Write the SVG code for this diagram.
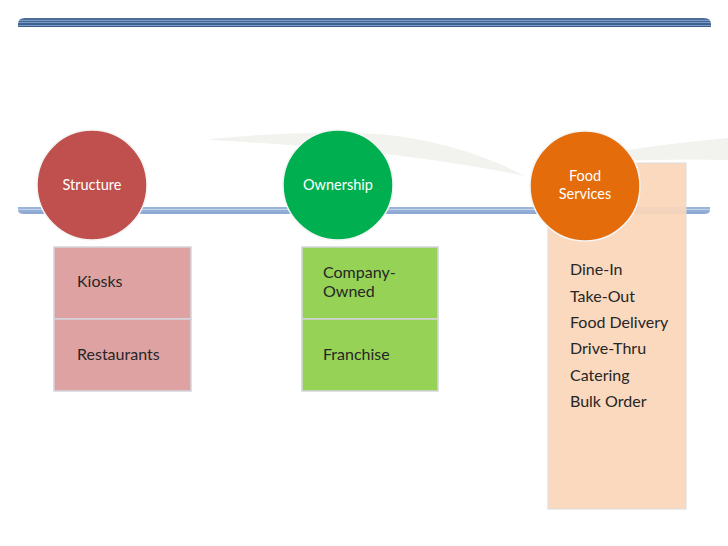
<svg xmlns="http://www.w3.org/2000/svg" width="728" height="546" viewBox="0 0 728 546">
<defs>
<style>
.t{font-family:Lato,"Open Sans","Liberation Sans",sans-serif;font-size:16px;fill:#262626}
.c{font-family:Lato,"Open Sans","Liberation Sans",sans-serif;font-size:14.5px;fill:#ffffff;text-anchor:middle}
.box{stroke:#d4d4dc;stroke-width:1.5}
.circ{stroke:#f4f4f4;stroke-width:1.5}
.sw{fill:#f2f2ef}
</style>
<linearGradient id="topStripe" x1="0" y1="0" x2="0" y2="1">
<stop offset="0" stop-color="#4a6d9c"/><stop offset="0.2" stop-color="#4a6d9c"/>
<stop offset="0.2" stop-color="#7d9cc8"/><stop offset="0.3" stop-color="#7d9cc8"/>
<stop offset="0.3" stop-color="#42658f"/><stop offset="0.5" stop-color="#42658f"/>
<stop offset="0.5" stop-color="#7d9cc8"/><stop offset="0.6" stop-color="#7d9cc8"/>
<stop offset="0.6" stop-color="#3f6191"/><stop offset="0.8" stop-color="#3f6191"/>
<stop offset="0.8" stop-color="#7d9cc8"/><stop offset="0.9" stop-color="#7d9cc8"/>
<stop offset="0.9" stop-color="#3b5e8c"/><stop offset="1" stop-color="#3b5e8c"/>
</linearGradient>
<linearGradient id="midStripe" x1="0" y1="0" x2="0" y2="1">
<stop offset="0" stop-color="#9bb5da"/><stop offset="0.25" stop-color="#9bb5da"/>
<stop offset="0.25" stop-color="#c3d3ea"/><stop offset="0.4" stop-color="#c3d3ea"/>
<stop offset="0.4" stop-color="#92aed6"/><stop offset="0.65" stop-color="#92aed6"/>
<stop offset="0.65" stop-color="#c3d3ea"/><stop offset="0.78" stop-color="#c3d3ea"/>
<stop offset="0.78" stop-color="#8faad2"/><stop offset="1" stop-color="#8faad2"/>
</linearGradient>
</defs>
<rect width="728" height="546" fill="#ffffff"/>
<g id="background">
<path d="M18 27 L18 24 Q18 18 25 18 L704 18 Q711 18 711 24 L711 27 Z" fill="url(#topStripe)"/>
<path class="sw" d="M210 139 Q300 130 380 134 Q460 142 525 176 Q400 150 210 140 Z"/>
<path class="sw" d="M540 166 Q620 148 728 138 L728 160 Q630 158 540 166 Z"/>
<path d="M18 207 L710 207 L710 210 Q710 214 704 214 L24 214 Q18 214 18 210 Z" fill="url(#midStripe)"/>
</g>
<g id="food-panel">
<rect x="548" y="163" width="138" height="346" fill="#fad7bb" opacity="0.93" stroke="#dadada" stroke-width="1"/>
<text class="t" x="570" y="275">Dine-In</text>
<text class="t" x="570" y="302">Take-Out</text>
<text class="t" x="570" y="328">Food Delivery</text>
<text class="t" x="570" y="354">Drive-Thru</text>
<text class="t" x="570" y="381">Catering</text>
<text class="t" x="570" y="407">Bulk Order</text>
</g>
<g id="structure-boxes">
<rect class="box" x="54" y="247" width="137" height="72" fill="#dfa2a2"/>
<rect class="box" x="54" y="319" width="137" height="72" fill="#dfa2a2"/>
<text class="t" x="77" y="287">Kiosks</text>
<text class="t" x="77" y="360">Restaurants</text>
</g>
<g id="ownership-boxes">
<rect class="box" x="302" y="247" width="136" height="72" fill="#95d255"/>
<rect class="box" x="302" y="319" width="136" height="72" fill="#95d255"/>
<text class="t" x="323" y="278">Company-</text>
<text class="t" x="323" y="297">Owned</text>
<text class="t" x="323" y="360">Franchise</text>
</g>
<g id="structure">
<circle class="circ" cx="92" cy="185" r="55" fill="#c0504d"/>
<text class="c" x="92" y="190">Structure</text>
</g>
<g id="ownership">
<circle class="circ" cx="338" cy="185" r="55" fill="#00b050"/>
<text class="c" x="338" y="190">Ownership</text>
</g>
<g id="food-services">
<circle class="circ" cx="585" cy="186" r="55" fill="#e46c0a"/>
<text class="c" x="585" y="181">Food</text>
<text class="c" x="585" y="199">Services</text>
</g>
<g id="connectors"></g>
</svg>
